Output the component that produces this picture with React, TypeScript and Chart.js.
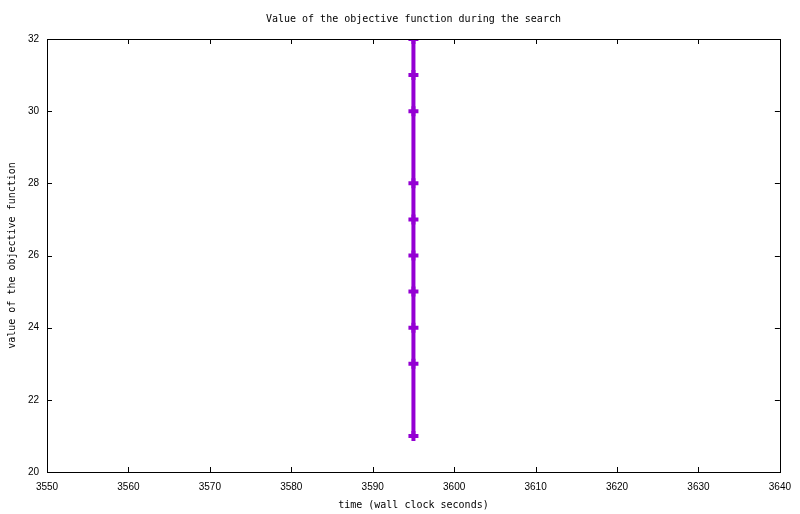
import React, { useEffect, useRef } from "react";
import { Chart, registerables } from "chart.js";

Chart.register(...registerables);

const titleText = "Value of the objective function during the search";
const xTitle = "time (wall clock seconds)";
const yTitle = "value of the objective function";
const timeValues = [3595, 3595, 3595, 3595, 3595, 3595, 3595, 3595, 3595, 3595];
const objectiveValues = [32, 31, 30, 28, 27, 26, 25, 24, 23, 21];
const xRange = [3550, 3640];
const yRange = [20, 32];
const xStep = 10;
const yStep = 2;

const MONO = "'DejaVu Sans Mono', monospace";
const SANS = "'Liberation Sans', Arial, sans-serif";

const framePlugin = {
  id: "gnuplotFrame",
  afterDraw(chart: any) {
    const { ctx, chartArea, scales } = chart;
    const { left, right, top, bottom } = chartArea;
    ctx.save();
    ctx.strokeStyle = "#000";
    ctx.lineWidth = 1;
    const tl = 5;
    ctx.beginPath();
    scales.x.ticks.forEach((t: any) => {
      const px = Math.round(scales.x.getPixelForValue(t.value)) + 0.5;
      ctx.moveTo(px, bottom);
      ctx.lineTo(px, bottom - tl);
      ctx.moveTo(px, top);
      ctx.lineTo(px, top + tl);
    });
    scales.y.ticks.forEach((t: any) => {
      const py = Math.round(scales.y.getPixelForValue(t.value)) + 0.5;
      ctx.moveTo(left, py);
      ctx.lineTo(left + tl, py);
      ctx.moveTo(right, py);
      ctx.lineTo(right - tl, py);
    });
    ctx.stroke();
    ctx.strokeRect(Math.round(left) + 0.5, Math.round(top) + 0.5, Math.round(right - left), Math.round(bottom - top));
    ctx.fillStyle = "#000";
    ctx.font = "10px " + MONO;
    ctx.textAlign = "center";
    ctx.textBaseline = "middle";
    ctx.fillText(titleText, (left + right) / 2, 19);
    ctx.restore();
  },
};

export default function App() {
  const ref = useRef<HTMLCanvasElement | null>(null);
  useEffect(() => {
    if (!ref.current) return;
    const chart = new Chart(ref.current, {
      type: "scatter",
      data: {
        datasets: [
          {
            data: timeValues.map((x, i) => ({ x, y: objectiveValues[i] })),
            showLine: true,
            borderColor: "#9400d3",
            backgroundColor: "#9400d3",
            borderWidth: 4,
            pointStyle: "cross",
            pointRadius: 5,
            pointBorderWidth: 4,
            pointHoverRadius: 5,
          },
        ],
      },
      options: {
        animation: false,
        responsive: false,
        devicePixelRatio: 1,
        layout: { padding: { left: 0, right: 18, top: 39, bottom: 0 } },
        plugins: {
          legend: { display: false },
          tooltip: { enabled: false },
          title: { display: false },
        },
        scales: {
          x: {
            type: "linear",
            min: xRange[0],
            max: xRange[1],
            grid: { display: false, drawTicks: false },
            border: { display: false },
            ticks: {
              stepSize: xStep,
              color: "#000",
              font: { family: SANS, size: 10 },
              padding: 9,
              maxRotation: 0,
              callback: (v: any) => String(v),
            },
            title: {
              display: true,
              text: xTitle,
              color: "#000",
              font: { family: MONO, size: 10 },
              padding: { top: 0, bottom: 3 },
            },
            afterFit(scale: any) {
              scale.height = 42;
            },
          },
          y: {
            type: "linear",
            min: yRange[0],
            max: yRange[1],
            grid: { display: false, drawTicks: false },
            border: { display: false },
            ticks: {
              stepSize: yStep,
              color: "#000",
              font: { family: SANS, size: 10 },
              padding: 8,
              callback: (v: any) => String(v),
            },
            title: {
              display: true,
              text: yTitle,
              color: "#000",
              font: { family: MONO, size: 10 },
              padding: { top: 6, bottom: 0 },
            },
            afterFit(scale: any) {
              scale.width = 47;
            },
          },
        },
      },
      plugins: [framePlugin],
    });
    return () => chart.destroy();
  }, []);
  return (
    <div style={{ position: "absolute", left: 0, top: 0, width: 800, height: 514, background: "#fff" }}>
      <canvas ref={ref} width={800} height={514} style={{ display: "block" }} />
    </div>
  );
}
